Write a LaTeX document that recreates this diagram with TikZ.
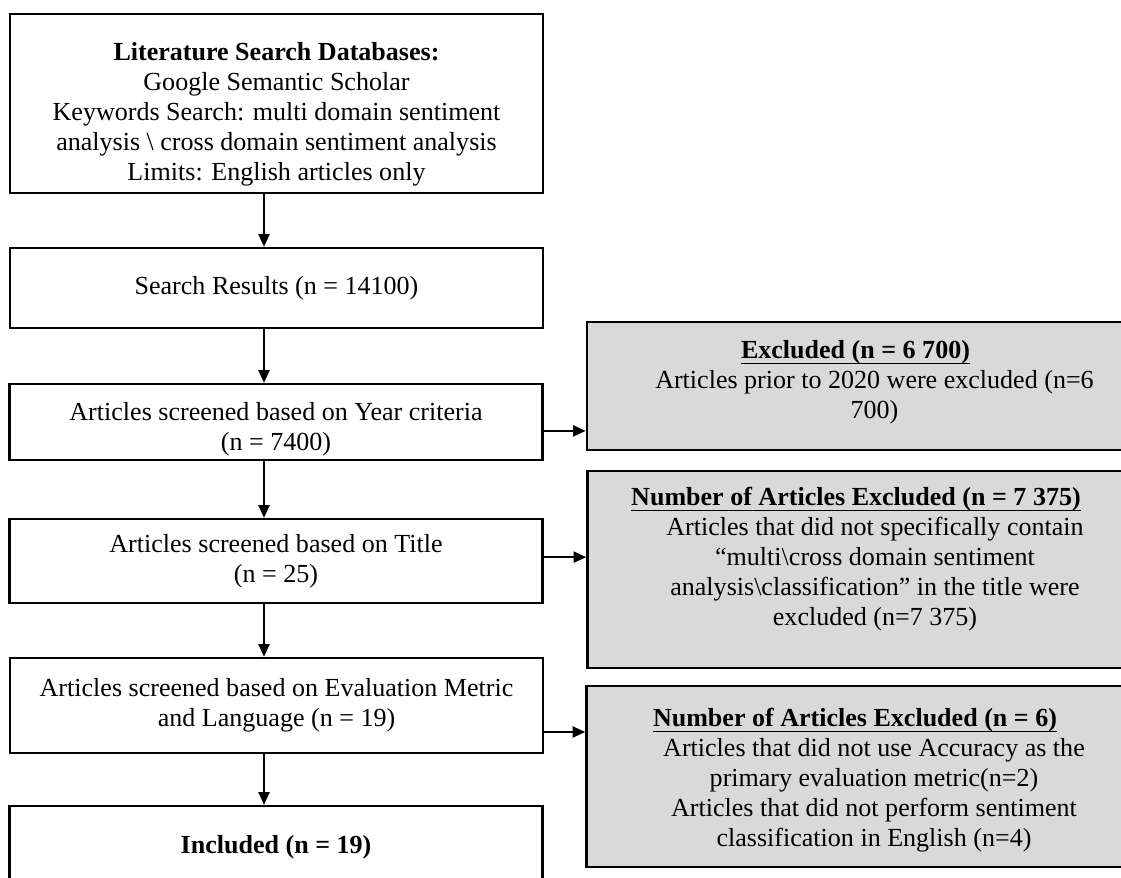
\documentclass[tikz,border=0pt]{standalone}
\usepackage{fontspec}
\setmainfont{Liberation Serif}
\usepackage{tikz}
\usetikzlibrary{arrows.meta, positioning}
\definecolor{exgray}{RGB}{217, 217, 217}
\newcommand{\bodyind}{\hspace*{17.5pt}}
\newcommand{\exhead}[1]{\underline{\raisebox{0pt}[\height][0.8pt]{\textbf{#1}}}}

\begin{document}
\begin{tikzpicture}[x=0.4608pt, y=-0.4608pt, >={Triangle[length=5.8pt, width=5.2pt]},
    stagebox/.style={draw, line width=1.2pt, minimum width=245.6pt, align=center, inner sep=1pt, font=\fontsize{12}{13.8}\selectfont},
    exbox/.style={stagebox, fill=exgray, minimum width=247.5pt},
    flow/.style={->, line width=0.6pt}]
    \useasboundingbox (0,0) rectangle (1121,878);
    \node[stagebox, minimum height=82.5pt] (search) at (276.5,103.5) {\rule{0pt}{18pt}\textbf{Literature Search Databases:}\\ Google Semantic Scholar\\ Keywords Search: multi domain sentiment\\ analysis \textbackslash{} cross domain sentiment analysis\\ Limits: English articles only};
    \node[stagebox, minimum height=36.9pt] (results) at (276.5,288) {Search Results (n = 14100)};
    \node[stagebox, minimum height=35pt, inner sep=0pt] (yearscr) at (276,422) {\rule{0pt}{15pt}Articles screened based on Year criteria\\ (n = 7400)};
    \node[stagebox, minimum height=38.7pt] (titlescr) at (276,561) {Articles screened based on Title\\ (n = 25)};
    \node[stagebox, minimum height=43.8pt] (metricscr) at (276.5,705.5) {Articles screened based on Evaluation Metric\\ and Language (n = 19)};
    \node[stagebox, minimum height=37.8pt] (included) at (276,847) {\textbf{Included (n = 19)}};
    \node[exbox, minimum height=59pt] (exyear) at (855.5,386) {\exhead{Excluded (n = 6 700)}\\ \bodyind Articles prior to 2020 were excluded (n=6\\ \bodyind 700)\rule[-6pt]{0pt}{1pt}};
    \node[exbox, minimum height=90.8pt] (extitle) at (856,569.5) {\exhead{Number of Articles Excluded (n = 7 375)}\\ \bodyind Articles that did not specifically contain\\ \bodyind “multi\textbackslash cross domain sentiment\\ \bodyind analysis\textbackslash classification” in the title were\\ \bodyind excluded (n=7 375)\rule[-12pt]{0pt}{1pt}};
    \node[exbox, minimum height=83.4pt] (exmetric) at (855,776.5) {\rule{0pt}{12pt}\exhead{Number of Articles Excluded (n = 6)}\\ \bodyind Articles that did not use Accuracy as the\\ \bodyind primary evaluation metric(n=2)\\ \bodyind Articles that did not perform sentiment\\ \bodyind classification in English (n=4)};
    \coordinate (spine) at (264,0);
    \draw[flow] (search.south -| spine) -- (results.north -| spine);
    \draw[flow] (results.south -| spine) -- (yearscr.north -| spine);
    \draw[flow] (yearscr.south -| spine) -- (titlescr.north -| spine);
    \draw[flow] (titlescr.south -| spine) -- (metricscr.north -| spine);
    \draw[flow] (metricscr.south -| spine) -- (included.north -| spine);
    \draw[flow] ([yshift=-4.1pt]yearscr.east) -- ([yshift=-4.1pt]yearscr.east -| exyear.west);
    \draw[flow] ([yshift=1.8pt]titlescr.east) -- ([yshift=1.8pt]titlescr.east -| extitle.west);
    \draw[flow] ([yshift=-12.2pt]metricscr.east) -- ([yshift=-12.2pt]metricscr.east -| exmetric.west);
\end{tikzpicture}
\end{document}
